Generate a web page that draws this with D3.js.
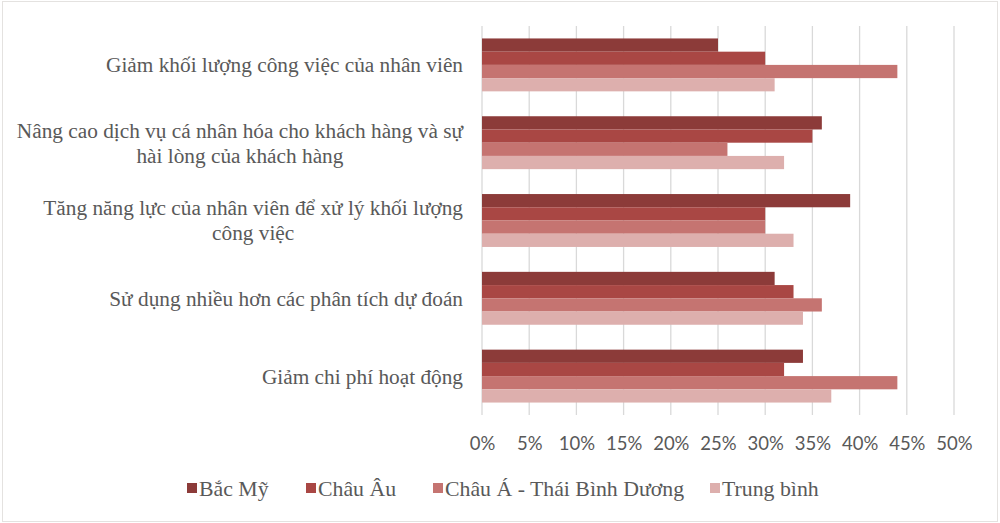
<!DOCTYPE html>
<html>
<head>
<meta charset="utf-8">
<script src="https://cdn.jsdelivr.net/npm/d3@7"></script>
<style>
  body { margin: 0; background: #fff; }
  svg { display: block; }
</style>
</head>
<body>
<script>
// Data
var categories = [
    ["Giảm khối lượng công việc của nhân viên"],
    ["Nâng cao dịch vụ cá nhân hóa cho khách hàng và sự", "hài lòng của khách hàng"],
    ["Tăng năng lực của nhân viên để xử lý khối lượng", "công việc"],
    ["Sử dụng nhiều hơn các phân tích dự đoán"],
    ["Giảm chi phí hoạt động"]
];
var seriesNames = ["Bắc Mỹ", "Châu Âu", "Châu Á - Thái Bình Dương", "Trung bình"];
var bacMy = [25, 36, 39, 31, 34];
var chauAu = [30, 35, 30, 33, 32];
var chauA = [44, 26, 30, 36, 44];
var trungBinh = [31, 32, 33, 34, 37];
var ticks = [0, 5, 10, 15, 20, 25, 30, 35, 40, 45, 50];

var colors = ["#8c3b39", "#a94744", "#c57471", "#ddafad"];
var series = [bacMy, chauAu, chauA, trungBinh];

var width = 1000, height = 523;
var margin = {top: 26, left: 482, right: 46, bottom: 108};
var labelRight = 463;

var svg = d3.select("body").append("svg")
    .attr("width", width)
    .attr("height", height);

// light frame around the picture
svg.append("rect")
    .attr("x", 2.5).attr("y", 1.5)
    .attr("width", width - 5).attr("height", height - 3)
    .attr("fill", "none")
    .attr("stroke", "#e4e2e0");

var x = d3.scaleLinear().domain([0, 50]).range([margin.left, width - margin.right]);
var y = d3.scaleBand()
    .domain(d3.range(categories.length))
    .range([margin.top, height - margin.bottom])
    .paddingInner(0.32)
    .paddingOuter(0.16);
var ySub = d3.scaleBand().domain(d3.range(series.length)).range([0, y.bandwidth()]);

// gridlines
svg.append("g").selectAll("line")
    .data(ticks)
    .enter().append("line")
    .attr("x1", function(d) { return x(d); })
    .attr("x2", function(d) { return x(d); })
    .attr("y1", margin.top)
    .attr("y2", height - margin.bottom)
    .attr("stroke", "#d9d9d9")
    .attr("stroke-width", 1.3);

// bars
var groups = svg.append("g").selectAll("g")
    .data(categories)
    .enter().append("g")
    .attr("transform", function(d, i) { return "translate(0," + y(i) + ")"; });

groups.selectAll("rect")
    .data(function(d, i) { return series.map(function(s, j) { return {s: j, v: s[i]}; }); })
    .enter().append("rect")
    .attr("x", x(0))
    .attr("y", function(d) { return ySub(d.s); })
    .attr("width", function(d) { return x(d.v) - x(0); })
    .attr("height", ySub.bandwidth())
    .attr("fill", function(d) { return colors[d.s]; });

// category labels
var labels = svg.append("g").selectAll("text")
    .data(categories)
    .enter().append("text")
    .attr("x", labelRight)
    .attr("y", function(d, i) { return y(i) + y.bandwidth() / 2 - (d.length - 1) * 12.5; })
    .attr("text-anchor", "end")
    .attr("font-family", "'Liberation Serif', 'DejaVu Serif', serif")
    .attr("font-size", 21.3)
    .attr("fill", "#595959");

labels.selectAll("tspan")
    .data(function(d) { return d; })
    .enter().append("tspan")
    .attr("x", labelRight)
    .attr("dy", function(d, i) { return i === 0 ? "0.35em" : 25; })
    .text(function(d) { return d; });

// second lines are centred under the first
labels.each(function(d) {
    if (d.length < 2) return;
    var ts = d3.select(this).selectAll("tspan").nodes();
    var w0 = ts[0].getComputedTextLength();
    d3.select(this).attr("text-anchor", null);
    d3.select(ts[0]).attr("x", labelRight - w0);
    d3.select(ts[1]).attr("x", labelRight - w0 / 2).attr("text-anchor", "middle");
});

// x axis
var xAxis = d3.axisBottom(x)
    .tickValues(ticks)
    .tickSize(0)
    .tickPadding(0)
    .tickFormat(function(d) { return d + "%"; });

var ax = svg.append("g")
    .attr("transform", "translate(0," + 444 + ")")
    .call(xAxis);
ax.select(".domain").remove();
ax.selectAll("text")
    .attr("dy", "0.35em")
    .attr("font-family", "Lato, 'Open Sans', sans-serif")
    .attr("font-size", 18.5)
    .attr("fill", "#595959");

// legend
var legendX = [187, 306, 433, 710];
var legend = svg.append("g").selectAll("g")
    .data(seriesNames)
    .enter().append("g")
    .attr("transform", function(d, i) { return "translate(" + legendX[i] + ",488)"; });

legend.append("rect")
    .attr("x", 0).attr("y", -5)
    .attr("width", 10).attr("height", 10)
    .attr("fill", function(d, i) { return colors[i]; });

legend.append("text")
    .attr("x", 12)
    .attr("dy", "0.35em")
    .attr("font-family", "'Liberation Serif', 'DejaVu Serif', serif")
    .attr("font-size", 21.8)
    .attr("fill", "#595959")
    .text(function(d) { return d; });
</script>
</body>
</html>
